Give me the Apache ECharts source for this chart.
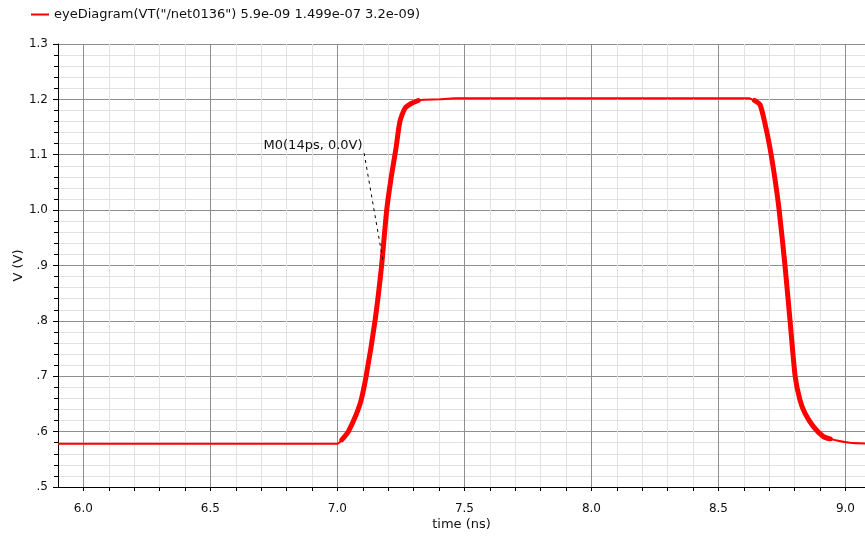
<!DOCTYPE html>
<html lang="en">
<head>
	<meta charset="UTF-8">
	<title>eyeDiagram</title>
	<script src="https://cdn.jsdelivr.net/npm/echarts@6/dist/echarts.min.js"></script>
	<style>
		html,body{margin:0;width:100%;height:100%;background:#fff;}
		#chart{width:865px;height:537px;}
	</style>
</head>
<body>
	<div id="chart"></div>
<script>
	// whole trace, time in ns, voltage in V
	var traceTime = [5.9, 7.000, 7.017, 7.043, 7.089, 7.113, 7.148, 7.174, 7.194, 7.212, 7.230, 7.246, 7.266, 7.292, 7.325,
		7.40, 7.46, 8.62, 8.631, 8.664, 8.683, 8.703, 8.722, 8.739, 8.762, 8.782, 8.802, 8.821, 8.841, 8.874, 8.913, 8.966, 9.018, 9.1];
	var traceVolt = [0.578, 0.578, 0.585, 0.600, 0.650, 0.700, 0.800, 0.900, 1.000, 1.060, 1.110, 1.160, 1.184, 1.193, 1.199,
		1.200, 1.202, 1.202, 1.200, 1.190, 1.157, 1.112, 1.058, 1.000, 0.900, 0.800, 0.700, 0.657, 0.633, 0.609, 0.591, 0.584, 0.580, 0.578];

	// edges where the overlapped traces make the line look thick
	var riseTime = [7.017, 7.043, 7.089, 7.113, 7.148, 7.174, 7.194, 7.212, 7.230, 7.246, 7.266, 7.292, 7.318];
	var riseVolt = [0.585, 0.600, 0.650, 0.700, 0.800, 0.900, 1.000, 1.060, 1.110, 1.160, 1.184, 1.193, 1.198];
	var fallTime = [8.642, 8.664, 8.683, 8.703, 8.722, 8.739, 8.762, 8.782, 8.802, 8.821, 8.841, 8.874, 8.913, 8.940];
	var fallVolt = [1.198, 1.190, 1.157, 1.112, 1.058, 1.000, 0.900, 0.800, 0.700, 0.657, 0.633, 0.609, 0.591, 0.587];

	// marker M0: label anchor and point on the curve
	var markerFrom = [7.105, 1.103];
	var markerTo = [7.181, 0.904];
	var markerText = 'M0(14ps, 0.0V)';

	var seriesName = 'eyeDiagram(VT("/net0136") 5.9e-09 1.499e-07 3.2e-09)';

	var myChart;

	function pairs(xs, ys) {
		var out = [];
		for (var i = 0; i < xs.length; i++) {
			out.push([xs[i], ys[i]]);
		}
		return out;
	}

	function chart() {
		myChart = echarts.init(document.getElementById('chart'));

		var font = 'DejaVu Sans';
		var major = '#8e8e8e', minor = '#e2e2e2';

		var edges = pairs(riseTime, riseVolt).concat([[8.0, null]]).concat(pairs(fallTime, fallVolt));

		var options = {
			animation: false,
			textStyle: {fontFamily: font},
			legend: {
				data: [seriesName],
				left: 26,
				top: 3,
				icon: 'rect',
				itemWidth: 18,
				itemHeight: 2,
				textStyle: {fontFamily: font, fontSize: 13, color: '#111'}
			},
			grid: {left: 58, top: 44, bottom: 50, right: 0, outerBoundsMode: 'none'},
			xAxis: {
				type: 'value',
				min: 5.9,
				max: 9.077,   // the picture is cut off just before 9.1
				interval: 0.1,
				name: 'time (ns)',
				nameLocation: 'middle',
				nameGap: 31,
				nameMoveOverlap: false,
				nameTextStyle: {fontFamily: font, fontSize: 13, color: '#111'},
				axisLine: {onZero: false, lineStyle: {color: '#000', width: 1}},
				axisTick: {length: 4, lineStyle: {color: '#000'}},
				axisLabel: {
					margin: 16,
					fontFamily: font,
					fontSize: 12,
					color: '#111',
					showMinLabel: false,
					showMaxLabel: false,
					formatter: function (v) {
						var d = v * 2;
						return Math.abs(d - Math.round(d)) < 1e-6 ? v.toFixed(1) : '';
					}
				},
				splitLine: {show: true, lineStyle: {color: [minor, major, minor, minor, minor], width: 1}}
			},
			yAxis: {
				type: 'value',
				min: 0.5,
				max: 1.3,
				interval: 0.1,
				name: 'V (V)',
				nameLocation: 'middle',
				nameRotate: 90,
				nameGap: 33,
				nameMoveOverlap: false,
				nameTextStyle: {fontFamily: font, fontSize: 13, color: '#111'},
				axisLine: {show: true, onZero: false, lineStyle: {color: '#000', width: 1}},
				axisTick: {show: true, length: 5, lineStyle: {color: '#000'}},
				minorTick: {show: true, splitNumber: 5, length: 4, lineStyle: {color: '#000'}},
				axisLabel: {
					margin: 10,
					fontFamily: font,
					fontSize: 12,
					color: '#111',
					formatter: function (v) {
						var s = v.toFixed(1);
						return v < 1 ? s.slice(1) : s;
					}
				},
				splitLine: {show: true, lineStyle: {color: major, width: 1}},
				minorSplitLine: {show: true, lineStyle: {color: minor, width: 1}}
			},
			series: [
				{
					name: seriesName,
					type: 'line',
					data: pairs(traceTime, traceVolt),
					showSymbol: false,
					smooth: 0.2,
					color: '#ff0000',
					lineStyle: {color: '#ff0000', width: 2},
					z: 3,
					markLine: {
						silent: true,
						symbol: ['none', 'none'],
						label: {show: false},
						lineStyle: {color: '#000', width: 1, type: [3, 4]},
						data: [[{coord: markerFrom}, {coord: markerTo}]]
					},
					markPoint: {
						silent: true,
						symbol: 'circle',
						symbolSize: 1,
						itemStyle: {color: 'rgba(0,0,0,0)'},
						label: {
							show: true,
							position: 'left',
							distance: 1,
							offset: [0, -7],
							formatter: markerText,
							fontFamily: font,
							fontSize: 13,
							color: '#111'
						},
						data: [{coord: markerFrom}]
					}
				},
				{
					name: 'edges',
					type: 'line',
					data: edges,
					showSymbol: false,
					smooth: 0.2,
					connectNulls: false,
					lineStyle: {color: '#ff0000', width: 5, cap: 'round'},
					z: 2
				}
			]
		};
		myChart.setOption(options);
	}

	chart();
</script>
</body>
</html>
